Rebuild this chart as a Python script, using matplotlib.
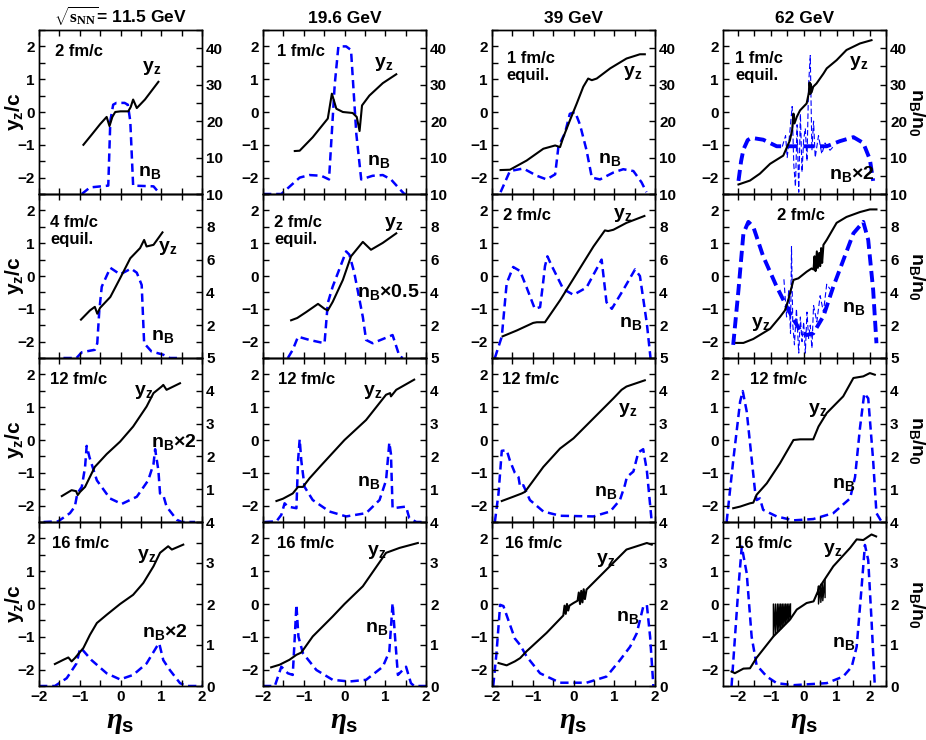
import matplotlib
matplotlib.use("Agg")
import matplotlib.pyplot as plt
from matplotlib.ticker import FixedLocator, MultipleLocator, NullFormatter

plt.rcParams['font.family'] = ['Liberation Sans', 'DejaVu Sans']
plt.rcParams['font.weight'] = 'bold'
plt.rcParams['mathtext.fontset'] = 'custom'
plt.rcParams['mathtext.default'] = 'regular'
plt.rcParams['mathtext.rm'] = 'Liberation Serif'
plt.rcParams['mathtext.it'] = 'Liberation Serif:italic:bold'
plt.rcParams['lines.scale_dashes'] = False

# ---- column / row labels ----
energies = ['11.5', '19.6', '39', '62']
times = [['2 fm/c', '1 fm/c', '1 fm/c\nequil.', '1 fm/c\nequil.'],
         ['4 fm/c\nequil.', '2 fm/c\nequil.', '2 fm/c', '2 fm/c'],
         ['12 fm/c'] * 4,
         ['16 fm/c'] * 4]
nb_tags = [['', '', '', r'$\times$2'],
           ['', r'$\times$0.5', '', ''],
           [r'$\times$2', '', '', ''],
           [r'$\times$2', '', '', '']]

# ---- row 1 ----
r1c1_yz_eta = [-0.91, -0.7, -0.5, -0.34, -0.27, -0.2, -0.13, 0.0, 0.19, 0.25, 0.31, 0.40, 0.6, 0.93]
r1c1_yz = [-1.0, -0.68, -0.37, -0.15, -0.43, -0.15, 0.0, 0.02, 0.02, 0.15, 0.38, 0.12, 0.38, 0.92]
r1c1_nb_eta = [-0.95, -0.75, -0.3, -0.25, -0.18, -0.1, 0.1, 0.18, 0.24, 0.31, 0.81, 0.97]
r1c1_nb = [0, 1.8, 2.3, 20, 24.5, 25, 25, 24.5, 20, 2.3, 2.1, 0]

r1c2_yz_eta = [-1.22, -1.1, -0.78, -0.41, -0.31, -0.2, -0.04, 0.2, 0.3, 0.37, 0.43, 0.61, 0.94, 1.27]
r1c2_yz = [-1.19, -1.18, -0.77, -0.2, 0.56, 0.1, 0.0, -0.03, -0.15, -0.58, 0.2, 0.5, 0.88, 1.15]
r1c2_nb_eta = [-2.0, -1.55, -1.1, -0.86, -0.57, -0.38, -0.24, -0.15, 0.04, 0.16, 0.29, 0.41, 0.69, 0.94, 1.14, 1.35, 1.47, 1.63]
r1c2_nb = [0, 0, 4.5, 5.2, 5.0, 4.0, 30, 40.5, 40.5, 39.5, 16.5, 4.0, 5.0, 5.2, 4.0, 1.4, 0, 0]

r1c3_yz_eta = [-1.79, -1.56, -1.15, -0.74, -0.45, -0.33, -0.25, -0.09, 0.08, 0.24, 0.36, 0.45, 0.57, 0.9, 1.3, 1.63, 1.75]
r1c3_yz = [-1.77, -1.76, -1.48, -1.12, -1.02, -1.07, -0.77, -0.26, 0.26, 0.77, 1.02, 0.97, 1.02, 1.33, 1.63, 1.76, 1.76]
r1c3_nb_eta = [-1.79, -1.56, -1.23, -0.9, -0.66, -0.45, -0.37, -0.21, -0.09, 0.04, 0.16, 0.32, 0.45, 0.65, 0.98, 1.22, 1.47, 1.67, 1.79]
r1c3_nb = [0.5, 6.3, 7.0, 5.0, 4.0, 5.4, 13, 16.7, 22, 22.5, 19, 12, 4.5, 4.0, 5.9, 6.8, 6.3, 3.2, 0.5]

r1c4_yz_eta = [-1.98, -1.63, -1.33, -1.02, -0.62, -0.42, -0.35, -0.31, -0.28, -0.21, -0.11, 0.09, 0.16, 0.18, 0.2, 0.22,
               0.24, 0.29, 0.39, 0.6, 0.7, 1.0, 1.3, 1.71, 2.06]
r1c4_yz = [-2.21, -2.09, -1.88, -1.58, -1.33, -0.87, -0.55, -0.05, -0.35, -0.15, 0.05, 0.26, 0.6, 0.9, 0.55, 0.85,
           0.6, 0.77, 0.87, 1.17, 1.33, 1.58, 1.89, 2.09, 2.19]
r1c4_nb_eta = [-1.98, -1.9, -1.83, -1.7, -1.58, -1.23, -0.82, -0.57, 0.7, 1.1, 1.51, 1.81, 2.01, 2.11]
r1c4_nb = [3.6, 9.0, 12.2, 14.8, 15.4, 14.9, 13.1, 13.1, 13.1, 14.5, 15.6, 14.0, 9.5, 3.6]
r1c4_noise_eta = [-0.65, -0.55, -0.5, -0.42, -0.35, -0.3, -0.25, -0.2, -0.15, -0.1, -0.05, 0.0, 0.05, 0.1, 0.15,
                  0.2, 0.25, 0.3, 0.35, 0.45, 0.55, 0.65, 0.8, 0.9]
r1c4_noise = [13, 16, 10, 17, 24, 8, 2, 19, 0.5, 22, 6, 15, 18, 9, 30, 38, 12, 20, 10, 16, 11, 14, 12, 13]

# ---- row 2 ----
r2c1_yz_eta = [-0.97, -0.75, -0.63, -0.57, -0.5, -0.25, -0.01, 0.24, 0.48, 0.58, 0.64, 0.81, 1.03]
r2c1_yz = [-1.33, -1.05, -0.94, -1.15, -0.97, -0.64, -0.07, 0.54, 0.85, 1.1, 0.9, 0.95, 1.33]
r2c1_nb_eta = [-1.4, -1.08, -0.95, -0.63, -0.57, -0.52, -0.46, -0.25, -0.01, 0.26, 0.4, 0.52, 0.58, 0.76, 1.05, 1.21, 1.5]
r2c1_nb = [0, 0, 0.35, 0.5, 0.9, 2.9, 4.35, 5.5, 5.1, 5.45, 5.2, 4.45, 0.9, 0.4, 0.2, 0, 0]

r2c2_yz_eta = [-1.31, -1.16, -0.94, -0.65, -0.49, -0.41, -0.29, -0.04, 0.16, 0.45, 0.65, 0.94, 1.27]
r2c2_yz = [-1.35, -1.28, -1.1, -0.85, -1.0, -1.05, -0.79, -0.12, 0.6, 1.04, 0.8, 1.01, 1.3]
r2c2_nb_eta = [-1.39, -1.27, -1.14, -0.86, -0.49, -0.41, -0.29, 0.04, 0.12, 0.24, 0.45, 0.53, 0.69, 1.18, 1.35, 1.43]
r2c2_nb = [0, 0.5, 1.3, 1.1, 0.9, 3.35, 4.35, 6.5, 6.3, 5.2, 2.5, 1.1, 0.9, 1.4, 0.1, 0]

r2c3_yz_eta = [-1.74, -1.39, -0.99, -0.9, -0.7, -0.33, 0.08, 0.49, 0.77, 0.85, 0.98, 1.3, 1.74]
r2c3_yz = [-1.84, -1.66, -1.43, -1.41, -1.41, -0.74, 0.08, 0.9, 1.39, 1.37, 1.41, 1.62, 1.83]
r2c3_nb_eta = [-1.93, -1.76, -1.64, -1.48, -1.31, -1.15, -0.95, -0.82, -0.75, -0.7, -0.64, -0.55, -0.41, -0.25, 0.0,
               0.32, 0.69, 0.81, 0.94, 1.22, 1.51, 1.63, 1.8, 1.89]
r2c3_nb = [0, 1.3, 4.55, 5.55, 5.3, 4.3, 3.0, 3.1, 4.5, 5.6, 6.2, 5.7, 5.0, 4.2, 3.85,
           4.3, 6.0, 3.4, 3.0, 4.15, 5.4, 5.0, 2.1, 0]

r2c4_yz_eta = [-2.05, -1.83, -1.53, -1.02, -0.72, -0.57, -0.47, -0.31, -0.16, 0.09, 0.24, 0.3, 0.33, 0.36, 0.4,
               0.43, 0.47, 0.5, 0.53, 0.56, 0.6, 0.7, 1.0, 1.3, 1.71, 2.01, 2.21]
r2c4_yz = [-2.04, -2.04, -1.92, -1.61, -1.25, -1.05, -0.74, -0.12, -0.07, 0.13, 0.23, 0.2, 0.6, 0.15, 0.75,
           0.25, 0.7, 0.3, 0.85, 0.4, 0.95, 1.1, 1.62, 1.8, 1.95, 2.03, 2.03]
r2c4_nb_eta = [-2.14, -1.98, -1.83, -1.68, -1.53, -1.23, -0.82, -0.52, -0.31, -0.11, 0.09, 0.29, 0.6, 0.9, 1.21,
               1.51, 1.81, 1.96, 2.11, 2.21]
r2c4_nb = [0.8, 4.15, 7.6, 8.3, 8.0, 6.2, 4.35, 3.15, 2.35, 1.7, 1.4, 1.5, 2.55, 4.35, 6.0,
           7.6, 8.3, 7.2, 4.15, 0.9]
r2c4_noise_eta = [-0.6, -0.52, -0.45, -0.4, -0.37, -0.33, -0.28, -0.22, -0.15, -0.1, -0.05, 0.0, 0.05, 0.1, 0.15,
                  0.2, 0.25, 0.3, 0.4, 0.5, 0.6, 0.7, 0.8]
r2c4_noise = [4.8, 2.5, 4.2, 1.5, 6.8, 2.0, 0.8, 3.0, 0.3, 2.5, 1.0, 2.2, 0.3, 2.8, 1.2,
              2.0, 0.6, 3.2, 2.2, 3.8, 2.8, 4.5, 4.2]

# ---- row 3 ----
r3c1_yz_eta = [-1.44, -1.2, -1.09, -1.05, -0.99, -0.87, -0.63, -0.34, -0.01, 0.31, 0.64, 0.81, 1.01, 1.05, 1.13, 1.46]
r3c1_yz = [-1.71, -1.53, -1.56, -1.68, -1.58, -1.43, -0.82, -0.43, -0.05, 0.41, 1.02, 1.43, 1.63, 1.68, 1.53, 1.73]
r3c1_nb_eta = [-1.89, -1.53, -1.24, -1.12, -1.06, -0.95, -0.87, -0.83, -0.76, -0.58, -0.26, 0.03, 0.4, 0.68, 0.81,
               0.85, 0.93, 0.97, 1.05, 1.13, 1.38, 1.5, 1.83]
r3c1_nb = [0, 0.02, 0.27, 0.47, 0.87, 1.07, 1.67, 2.32, 1.97, 1.27, 0.72, 0.55, 0.77, 1.27, 1.77,
           2.22, 1.57, 0.87, 0.82, 0.47, 0.07, 0, 0]

r3c2_yz_eta = [-1.67, -1.51, -1.27, -1.14, -1.02, -0.86, -0.57, 0.0, 0.53, 1.02, 1.12, 1.14, 1.27, 1.71]
r3c2_yz = [-1.86, -1.79, -1.63, -1.43, -1.43, -1.17, -0.77, 0.0, 0.61, 1.38, 1.43, 1.33, 1.53, 1.84]
r3c2_nb_eta = [-1.96, -1.67, -1.55, -1.47, -1.39, -1.18, -1.14, -1.1, -1.06, -0.98, -0.78, -0.37, 0.04, 0.53, 0.86,
               1.02, 1.1, 1.14, 1.18, 1.51, 1.59, 1.76, 2.0]
r3c2_nb = [0, 0.02, 0.22, 0.57, 0.47, 0.42, 1.87, 2.52, 1.87, 1.07, 0.67, 0.32, 0.17, 0.27, 0.67,
           1.27, 2.42, 2.07, 0.42, 0.47, 0.12, 0, 0]

r3c3_yz_eta = [-1.76, -1.48, -1.27, -1.19, -0.74, -0.33, 0.0, 0.49, 0.98, 1.18, 1.3, 1.75]
r3c3_yz = [-1.86, -1.73, -1.63, -1.58, -0.82, -0.26, 0.05, 0.66, 1.27, 1.53, 1.63, 1.82]
r3c3_nb_eta = [-1.93, -1.84, -1.76, -1.64, -1.56, -1.44, -1.35, -1.31, -1.23, -1.07, -0.74, -0.33, 0.49, 0.9, 1.14,
               1.26, 1.31, 1.47, 1.59, 1.71, 1.8, 1.92]
r3c3_nb = [0, 0.87, 2.17, 2.19, 1.87, 1.5, 1.37, 1.07, 1.12, 0.67, 0.32, 0.19, 0.17, 0.32, 0.67,
           1.12, 1.37, 1.54, 2.12, 2.22, 1.57, 0]

r3c4_yz_eta = [-2.14, -1.93, -1.63, -1.53, -1.43, -1.12, -0.72, -0.31, -0.11, 0.29, 0.45, 0.7, 1.2, 1.51, 1.81, 2.01, 2.16]
r3c4_yz = [-2.08, -2.03, -1.93, -1.91, -1.67, -1.32, -0.71, 0.0, 0.02, 0.02, 0.41, 0.82, 1.33, 1.89, 1.94, 2.04, 1.99]
r3c4_nb_eta = [-2.34, -2.14, -1.93, -1.85, -1.73, -1.48, -1.43, -1.33, -1.23, -0.82, -0.31, 0.29, 0.9, 1.41, 1.56,
               1.71, 1.84, 1.96, 2.11, 2.21, 2.37]
r3c4_nb = [0, 1.87, 3.67, 3.99, 3.37, 0.97, 0.67, 0.72, 0.37, 0.17, 0.05, 0.09, 0.27, 0.72, 1.37,
           2.87, 3.92, 3.77, 1.87, 0.27, 0]

# ---- row 4 ----
r4c1_yz_eta = [-1.61, -1.4, -1.28, -1.2, -1.12, -0.91, -0.75, -0.58, -0.34, -0.01, 0.31, 0.56, 0.81, 0.97, 1.17, 1.26, 1.54]
r4c1_yz = [-1.83, -1.7, -1.63, -1.75, -1.65, -1.34, -0.94, -0.58, -0.33, 0.0, 0.28, 0.64, 1.15, 1.56, 1.76, 1.66, 1.81]
r4c1_nb_eta = [-2.0, -1.61, -1.32, -1.08, -0.99, -0.93, -0.71, -0.34, -0.01, 0.31, 0.64, 0.89, 0.95, 1.05, 1.21,
               1.46, 1.62, 2.0]
r4c1_nb = [0, 0, 0.19, 0.55, 0.92, 0.88, 0.63, 0.31, 0.16, 0.27, 0.55, 0.96, 1.04, 0.63, 0.39, 0.07, 0, 0]

r4c2_yz_eta = [-1.8, -1.59, -1.35, -1.18, -1.06, -0.78, -0.29, 0.0, 0.45, 1.02, 1.35, 1.8]
r4c2_yz = [-1.93, -1.85, -1.7, -1.55, -1.48, -0.99, -0.38, 0.0, 0.54, 1.56, 1.71, 1.86]
r4c2_nb_eta = [-2.0, -1.71, -1.55, -1.39, -1.27, -1.22, -1.18, -1.13, -1.02, -0.69, -0.29, 0.12, 0.53, 0.94, 1.1,
               1.18, 1.24, 1.31, 1.51, 1.63, 1.71, 2.0]
r4c2_nb = [0, 0, 0.47, 0.31, 0.27, 1.2, 1.98, 1.2, 0.8, 0.39, 0.15, 0.11, 0.15, 0.47, 0.84,
           2.02, 1.2, 0.27, 0.47, 0.07, 0, 0]

r4c3_yz_eta = [-1.84, -1.64, -1.44, -1.31, -1.15, -0.66, -0.25, -0.22, -0.19, -0.16, -0.13, -0.1, 0.0, 0.1, 0.13,
               0.16, 0.19, 0.22, 0.25, 0.28, 0.32, 0.81, 1.3, 1.55, 1.8, 1.92]
r4c3_yz = [-1.8, -1.87, -1.75, -1.65, -1.44, -0.88, -0.35, -0.05, -0.3, 0.0, -0.2, -0.05, 0.03, 0.1, 0.35,
           0.0, 0.4, 0.05, 0.45, 0.15, 0.44, 1.05, 1.66, 1.76, 1.86, 1.81]
r4c3_nb_eta = [-1.97, -1.89, -1.8, -1.72, -1.6, -1.44, -1.31, -1.15, -0.82, -0.33, 0.32, 0.81, 1.14, 1.39, 1.55,
               1.71, 1.8, 1.88, 1.96]
r4c3_nb = [0, 0.8, 1.98, 1.95, 1.61, 1.16, 1.0, 0.72, 0.31, 0.08, 0.08, 0.23, 0.63, 0.96, 1.28,
           1.93, 1.98, 1.2, 0]

r4c4_yz_eta = [-2.19, -2.09, -1.83, -1.63, -1.43, -0.92, -0.42, -0.21, 0.09, 0.3, 0.5, 0.9, 1.41, 1.61, 1.81, 2.06, 2.2]
r4c4_yz = [-2.06, -2.11, -1.97, -1.96, -1.64, -0.99, -0.48, -0.17, 0.03, 0.08, 0.54, 1.15, 1.71, 1.97, 1.95, 2.12, 2.06]
r4c4_nb_eta = [-2.19, -1.98, -1.88, -1.73, -1.58, -1.43, -1.12, -0.82, -0.31, 0.7, 1.2, 1.46, 1.61, 1.76, 1.86,
               1.96, 2.06, 2.16]
r4c4_nb = [0, 2.42, 3.4, 2.75, 1.2, 0.51, 0.23, 0.07, 0.02, 0.07, 0.23, 0.47, 0.96, 2.42, 3.44,
           3.07, 1.61, 0]
# spikes drawn on top of the y_z curve at 62 GeV, 16 fm/c
r4c4_spk1_eta = [-0.92, -0.92, -0.86, -0.86, -0.8, -0.8, -0.75, -0.75, -0.7, -0.7, -0.65, -0.65, -0.6, -0.6,
                 -0.55, -0.55, -0.5, -0.5, -0.45, -0.45, -0.4, -0.4]
r4c4_spk1 = [-0.99, 0.0, -0.93, 0.0, -0.87, 0.0, -0.82, 0.0, -0.77, 0.0, -0.72, 0.0, -0.66, 0.0,
             -0.61, 0.0, -0.56, 0.0, -0.51, 0.0, -0.46, 0.0]
r4c4_spk2_eta = [0.42, 0.45, 0.45, 0.52, 0.52, 0.58, 0.58, 0.65, 0.65]
r4c4_spk2 = [0.3, 0.55, 0.0, 0.6, 0.05, 0.65, 0.1, 0.75, 0.2]

yz_eta = [[r1c1_yz_eta, r1c2_yz_eta, r1c3_yz_eta, r1c4_yz_eta],
          [r2c1_yz_eta, r2c2_yz_eta, r2c3_yz_eta, r2c4_yz_eta],
          [r3c1_yz_eta, r3c2_yz_eta, r3c3_yz_eta, r3c4_yz_eta],
          [r4c1_yz_eta, r4c2_yz_eta, r4c3_yz_eta, r4c4_yz_eta]]
yz = [[r1c1_yz, r1c2_yz, r1c3_yz, r1c4_yz],
      [r2c1_yz, r2c2_yz, r2c3_yz, r2c4_yz],
      [r3c1_yz, r3c2_yz, r3c3_yz, r3c4_yz],
      [r4c1_yz, r4c2_yz, r4c3_yz, r4c4_yz]]
nb_eta = [[r1c1_nb_eta, r1c2_nb_eta, r1c3_nb_eta, r1c4_nb_eta],
          [r2c1_nb_eta, r2c2_nb_eta, r2c3_nb_eta, r2c4_nb_eta],
          [r3c1_nb_eta, r3c2_nb_eta, r3c3_nb_eta, r3c4_nb_eta],
          [r4c1_nb_eta, r4c2_nb_eta, r4c3_nb_eta, r4c4_nb_eta]]
nb = [[r1c1_nb, r1c2_nb, r1c3_nb, r1c4_nb],
      [r2c1_nb, r2c2_nb, r2c3_nb, r2c4_nb],
      [r3c1_nb, r3c2_nb, r3c3_nb, r3c4_nb],
      [r4c1_nb, r4c2_nb, r4c3_nb, r4c4_nb]]

# label positions (axes fraction)
yz_lab = [[(0.69, 0.77), (0.74, 0.79), (0.865, 0.74), (0.83, 0.80)],
          [(0.79, 0.67), (0.80, 0.82), (0.80, 0.87), (0.23, 0.21)],
          [(0.64, 0.79), (0.67, 0.79), (0.83, 0.68), (0.58, 0.68)],
          [(0.66, 0.79), (0.70, 0.82), (0.70, 0.77), (0.67, 0.83)]]
nb_lab = [[(0.68, 0.13), (0.71, 0.20), (0.72, 0.21), (0.79, 0.12)],
          [(0.76, 0.13), (0.77, 0.40), (0.85, 0.21), (0.80, 0.30)],
          [(0.83, 0.49), (0.65, 0.24), (0.70, 0.18), (0.74, 0.23)],
          [(0.77, 0.33), (0.70, 0.35), (0.83, 0.42), (0.74, 0.26)]]
time_x = [[0.1, 0.085, 0.09, 0.075],
          [0.07, 0.07, 0.07, 0.33],
          [0.07, 0.09, 0.06, 0.166],
          [0.08, 0.085, 0.08, 0.075]]

W, H = 926, 740
col_left = [39, 263, 492, 723]
col_w = 163
row_top = [30, 194, 358, 522]
row_h = 164
col_xlim = [(-2, 2), (-2, 2), (-2, 2), (-2.45, 2.5)]
row_ylim2 = [(0, 45), (0, 10), (0, 5), (0, 4)]
row_ticks2 = [[10, 20, 30, 40], [2, 4, 6, 8, 10], [1, 2, 3, 4, 5], [0, 1, 2, 3, 4]]
row_minor2 = [5, 1, 0.5, 0.5]

fig = plt.figure(figsize=(W / 100, H / 100), dpi=100)
tick_kw = dict(direction='in', length=4.5, width=1, labelsize=11, pad=3)

for r in range(4):
    for c in range(4):
        rect = [col_left[c] / W, 1 - (row_top[r] + row_h) / H, col_w / W, row_h / H]
        ax = fig.add_axes(rect)
        ax2 = ax.twinx()
        ax.set_zorder(ax2.get_zorder() + 1)
        ax.patch.set_visible(False)

        thick = (c == 3 and r < 2)
        if c == 3 and r == 0:
            ax2.plot(r1c4_noise_eta, r1c4_noise, color='#0000ff', lw=0.8, ls=(0, (4, 2)))
        if c == 3 and r == 1:
            ax2.plot(r2c4_noise_eta, r2c4_noise, color='#0000ff', lw=0.8, ls=(0, (4, 2)))
        ax2.plot(nb_eta[r][c], nb[r][c], color='#0000ff', lw=2.8 if thick else 1.8,
                 ls=(0, (8, 4)) if thick else (0, (6, 3.5)))
        if c == 3 and r == 3:
            ax.plot(r4c4_spk1_eta, r4c4_spk1, color='black', lw=1.0)
            ax.plot(r4c4_spk2_eta, r4c4_spk2, color='black', lw=1.0)
        ax.plot(yz_eta[r][c], yz[r][c], color='black', lw=1.5)

        ax.set_xlim(*col_xlim[c])
        ax.set_ylim(-2.5, 2.5)
        ax2.set_ylim(*row_ylim2[r])

        ax.xaxis.set_major_locator(FixedLocator([-2, -1, 0, 1, 2]))
        ax.xaxis.set_minor_locator(FixedLocator([-2.5, -1.5, -0.5, 0.5, 1.5, 2.5]))
        ax.yaxis.set_major_locator(FixedLocator([-2, -1, 0, 1, 2]))
        ax.yaxis.set_minor_locator(FixedLocator([-2.5, -1.5, -0.5, 0.5, 1.5, 2.5]))
        ax2.yaxis.set_major_locator(FixedLocator(row_ticks2[r]))
        ax2.yaxis.set_minor_locator(MultipleLocator(row_minor2[r]))

        ax.tick_params(axis='both', which='both', top=True, right=False, **tick_kw)
        ax2.tick_params(axis='y', which='both', **tick_kw)
        if r < 3:
            ax.xaxis.set_major_formatter(NullFormatter())
        for lab in ax.get_xticklabels() + ax.get_yticklabels() + ax2.get_yticklabels():
            lab.set_fontweight('bold')
        for sp in list(ax.spines.values()) + list(ax2.spines.values()):
            sp.set_linewidth(1.0)

        ax.text(time_x[r][c], 0.87, times[r][c], transform=ax.transAxes,
                fontsize=12, fontweight='bold', ha='left', va='top' if '\n' in times[r][c] else 'center',
                linespacing=1.1)
        ax.text(yz_lab[r][c][0], yz_lab[r][c][1], '$y_z$', transform=ax.transAxes,
                fontsize=14, fontweight='bold', ha='center', va='center')
        ax.text(nb_lab[r][c][0], nb_lab[r][c][1], '$n_B$' + nb_tags[r][c], transform=ax.transAxes,
                fontsize=14, fontweight='bold', ha='center', va='center')

        if r == 0:
            if c == 0:
                ttl = r'$\sqrt{\mathrm{s}_{\mathrm{NN}}}$= 11.5 GeV'
            else:
                ttl = energies[c] + ' GeV'
            ax.set_title(ttl, fontsize=12.5, fontweight='bold', pad=5)
        if r == 3:
            ax.set_xlabel(r'$\mathit{\eta}_s$', fontsize=21, fontweight='bold', labelpad=3)

        ymid = 1 - (row_top[r] + row_h / 2) / H
        if c == 0:
            fig.text(15 / W, ymid, '$y_z$/c', fontsize=15, fontweight='bold',
                     rotation=90, ha='center', va='center')
        if c == 3:
            fig.text(917 / W, ymid, '$n_B$/$n_0$', fontsize=14, fontweight='bold',
                     rotation=270, ha='center', va='center')

fig.savefig('out.png', dpi=100)
